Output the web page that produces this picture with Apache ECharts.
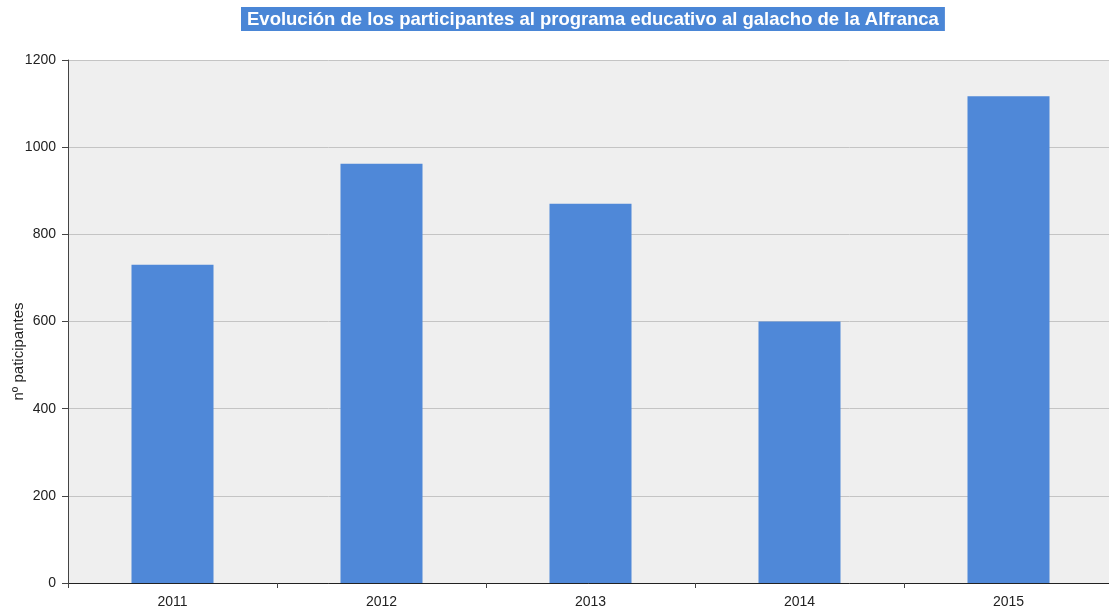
<!DOCTYPE html>
<html><head><meta charset="utf-8">
<script src="https://cdn.jsdelivr.net/npm/echarts@6/dist/echarts.min.js"></script>
<style>html,body{margin:0;padding:0;background:#fff}#c{width:1109px;height:612px}</style>
</head><body><div id="c"></div>
<script>
const categories = ['2011','2012','2013','2014','2015'];
const participantes = [730, 962, 870, 600, 1117];
const yTicks = [0, 200, 400, 600, 800, 1000, 1200];
const titleText = 'Evolución de los participantes al programa educativo al galacho de la Alfranca';
const yName = 'nº paticipantes';

const chart = echarts.init(document.getElementById('c'));
chart.setOption({
  animation: false,
  backgroundColor: '#ffffff',
  title: {
    text: titleText, left: 241, top: 7,
    padding: [3, 6, 2, 6],
    backgroundColor: '#4a86d6',
    textStyle: { color: '#ffffff', fontFamily: 'Liberation Sans, Arial', fontWeight: 'bold', fontSize: 18.5 }
  },
  grid: { left: 68, top: 60, width: 1045, height: 523, show: true, backgroundColor: '#efefef', borderWidth: 0, containLabel: false, outerBoundsMode: 'none' },
  xAxis: {
    type: 'category', data: categories,
    axisLine: { lineStyle: { color: '#222', width: 1 } },
    axisTick: { show: true, length: 5, lineStyle: { color: '#444' } },
    axisLabel: { color: '#222', fontSize: 14, fontFamily: 'Liberation Sans, Arial', margin: 12 }
  },
  yAxis: {
    type: 'value', min: yTicks[0], max: yTicks[yTicks.length-1], interval: 200,
    name: yName, nameLocation: 'middle', nameGap: 42, nameRotate: 90, nameMoveOverlap: false,
    nameTextStyle: { color: '#222', fontSize: 15, fontFamily: 'Liberation Sans, Arial', padding: [0, 60, 0, 0] },
    axisLine: { show: true, lineStyle: { color: '#444', width: 1 } },
    axisTick: { show: true, length: 6, lineStyle: { color: '#444' } },
    axisLabel: { color: '#222', fontSize: 14, fontFamily: 'Liberation Sans, Arial', margin: 12, formatter: v => String(v) },
    splitLine: { lineStyle: { color: '#c4c4c4', width: 1 } }
  },
  series: [{
    type: 'bar', data: participantes, barWidth: 82,
    itemStyle: { color: '#4f88d8' }
  }]
});
</script></body></html>
